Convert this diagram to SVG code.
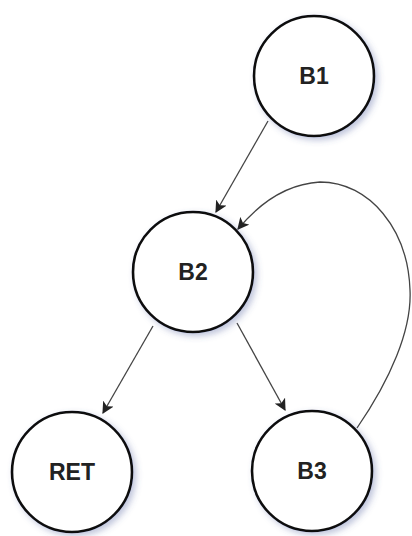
<svg xmlns="http://www.w3.org/2000/svg" width="412" height="536" viewBox="0 0 412 536">
<defs>
<filter id="shadow" x="-30%" y="-30%" width="160%" height="160%">
<feGaussianBlur in="SourceAlpha" stdDeviation="3" result="b"/>
<feOffset in="b" dx="3" dy="3" result="o"/>
<feFlood flood-color="#4a5a9a" flood-opacity="0.35"/>
<feComposite in2="o" operator="in" result="s"/>
<feMerge><feMergeNode in="s"/><feMergeNode in="SourceGraphic"/></feMerge>
</filter>
<marker id="arr" viewBox="0 0 10 10" refX="9" refY="5" markerWidth="12" markerHeight="12" markerUnits="userSpaceOnUse" orient="auto">
<path d="M0,0 L10,5 L0,10 L2.5,5 z" fill="#222"/>
</marker>
</defs>
<style>
.n circle{fill:#fff;stroke:#111;stroke-width:2.6;filter:url(#shadow)}
.n text{font-family:"Liberation Sans",Arial,sans-serif;font-weight:bold;font-size:23px;fill:#222;text-anchor:middle;dominant-baseline:central}
.e path{fill:none;stroke:#444;stroke-width:1.3;marker-end:url(#arr)}
</style>
<rect width="412" height="536" fill="#fff"/>
<g id="edges" class="e">
<path d="M268,121 L216,212"/>
<path d="M153,326 L103,413"/>
<path d="M237,323 L285,410"/>
<path d="M357,428 C390,380 412,330 410,290 C408,230 370,182 320,182 C285,184 258,205 238,229"/>
</g>
<g id="B1" class="n"><circle cx="314" cy="76" r="60"/><text x="314" y="76">B1</text></g>
<g id="B2" class="n"><circle cx="193" cy="272" r="60"/><text x="193" y="272">B2</text></g>
<g id="RET" class="n"><circle cx="72" cy="472" r="60"/><text x="72" y="472">RET</text></g>
<g id="B3" class="n"><circle cx="312" cy="471" r="60"/><text x="312" y="471">B3</text></g>
</svg>
